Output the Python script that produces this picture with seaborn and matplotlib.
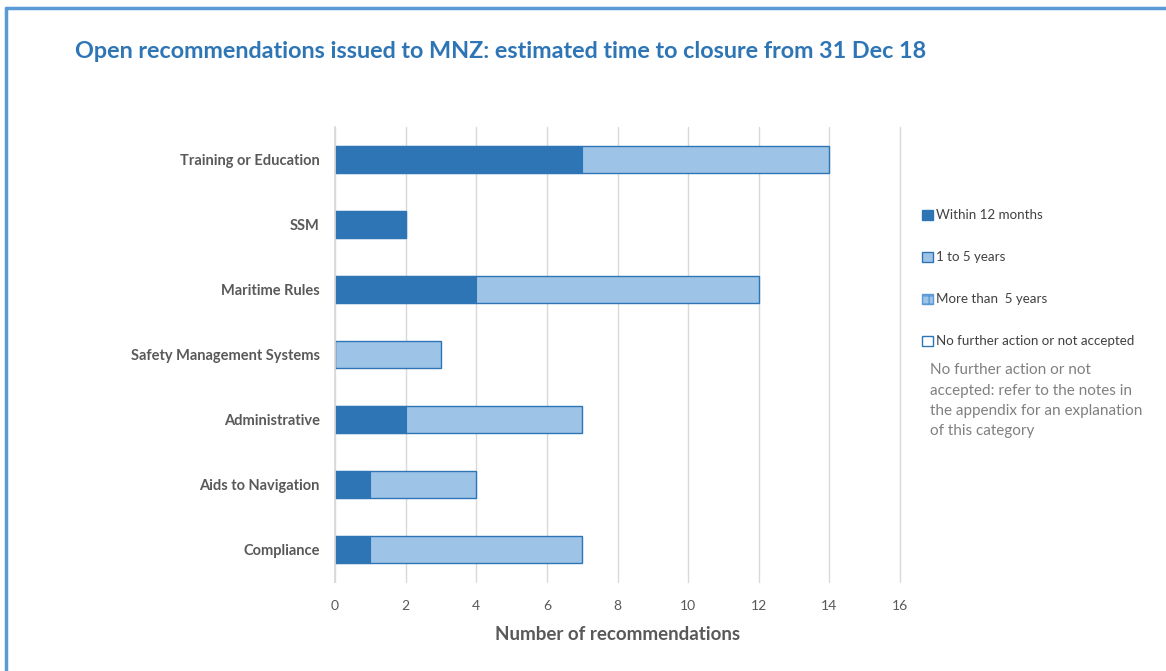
import matplotlib
matplotlib.use("Agg")
import matplotlib.pyplot as plt
import seaborn as sns
import pandas as pd
from matplotlib.patches import Patch

categories = ["Training or Education", "SSM", "Maritime Rules", "Safety Management Systems",
              "Administrative", "Aids to Navigation", "Compliance"]
within_12_months = [7, 2, 4, 0, 2, 1, 1]
one_to_five_years = [7, 0, 8, 3, 5, 3, 6]
more_than_five = [0, 0, 0, 0, 0, 0, 0]
no_further_action = [0, 0, 0, 0, 0, 0, 0]
legend_labels = ["Within 12 months", "1 to 5 years", "More than  5 years", "No further action or not accepted"]
x_ticks = [0, 2, 4, 6, 8, 10, 12, 14, 16]

DARK = "#2E75B6"
LIGHT = "#9DC3E6"
GRAY = "#595959"

sns.set_theme(style="white")
plt.rcParams["font.family"] = ["Lato", "DejaVu Sans"]

df = pd.DataFrame({
    "cat": categories,
    "w": within_12_months,
    "total": [a + b + c + d for a, b, c, d in zip(within_12_months, one_to_five_years, more_than_five, no_further_action)],
})

fig = plt.figure(figsize=(11.66, 6.71), dpi=100)
ax = fig.add_axes([335 / 1166, 1 - 582 / 671, (900 - 335) / 1166, (582 - 127) / 671])

sns.barplot(data=df, x="total", y="cat", orient="h", color=LIGHT, edgecolor=DARK,
            linewidth=1.0, width=0.42, ax=ax, saturation=1)
sns.barplot(data=df, x="w", y="cat", orient="h", color=DARK, edgecolor=DARK,
            linewidth=0.8, width=0.42, ax=ax, saturation=1)

ax.set_xlim(0, 16)
ax.set_ylim(6.5, -0.5)
ax.set_xticks(x_ticks)
ax.set_xticklabels([str(t) for t in x_ticks], color=GRAY, fontsize=10)
ax.set_yticklabels(categories, fontsize=10.5, fontweight="bold", color=GRAY)
ax.set_ylabel("")
ax.set_xlabel("Number of recommendations", fontsize=13.5, fontweight="bold", color=GRAY, labelpad=10)
ax.xaxis.grid(True, color="#D9D9D9", linewidth=1)
for gl in ax.get_xgridlines():
    gl.set_clip_on(False)
ax.set_axisbelow(True)
for s in ["top", "right", "bottom"]:
    ax.spines[s].set_visible(False)
ax.spines["left"].set_color("#D9D9D9")
ax.tick_params(axis="both", length=0, pad=13)
ax.tick_params(axis="y", pad=11)

fig.text(75 / 1166, 1 - 52 / 671, "Open recommendations issued to MNZ: estimated time to closure from 31 Dec 18",
         fontsize=16.8, fontweight="bold", color=DARK, va="center", ha="left")

handles = [
    Patch(facecolor=DARK, edgecolor=DARK),
    Patch(facecolor=LIGHT, edgecolor=DARK),
    Patch(facecolor=LIGHT, edgecolor="#5B9BD5", hatch="++"),
    Patch(facecolor="white", edgecolor=DARK),
]
leg = fig.legend(handles, legend_labels, loc="upper left", bbox_to_anchor=(917 / 1166, 1 - 204 / 671),
                 frameon=False, fontsize=9.6, labelcolor="#404040", handlelength=0.8, handleheight=0.8,
                 handletextpad=0.25, labelspacing=2.25, borderaxespad=0)

note_lines = ["No further action or not", "accepted: refer to the notes in",
              "the appendix for an explanation", "of this category"]
for i, line in enumerate(note_lines):
    fig.text(930 / 1166, 1 - (370 + i * 20.5) / 671, line, fontsize=11, color="#808080", va="center", ha="left")

# frame
fig.add_artist(plt.Line2D([6 / 1166, 6 / 1166], [0, 1 - 8 / 671], color="#5B9BD5", linewidth=2.5))
fig.add_artist(plt.Line2D([6 / 1166, 1], [1 - 8 / 671, 1 - 8 / 671], color="#5B9BD5", linewidth=2.5))

fig.savefig("out.png", dpi=100, facecolor="white")
